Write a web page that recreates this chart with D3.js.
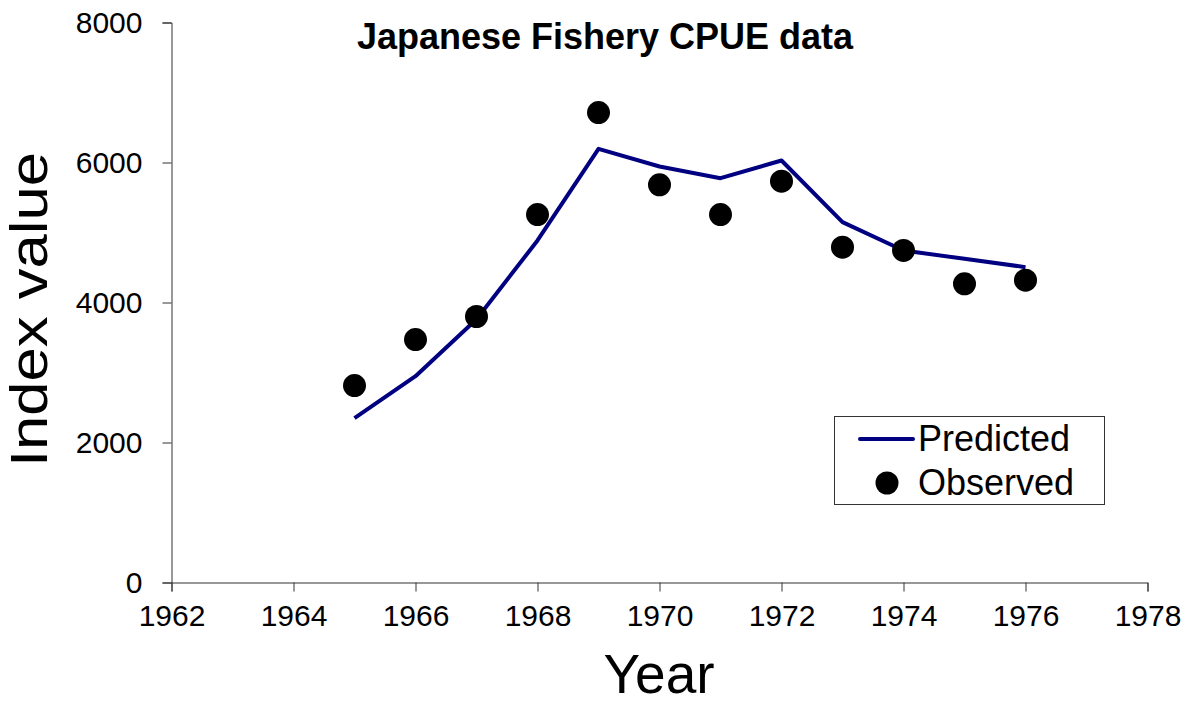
<!DOCTYPE html>
<html>
<head>
<meta charset="utf-8">
<script src="https://cdn.jsdelivr.net/npm/d3@7"></script>
<style>
  body { margin: 0; background: #fff; }
  text { font-family: "Liberation Sans", Arial, sans-serif; }
</style>
</head>
<body>
<div id="box"></div>
<script>
// data
var years = [1965, 1966, 1967, 1968, 1969, 1970, 1971, 1972, 1973, 1974, 1975, 1976];
var predicted = [2347, 2947, 3760, 4886, 6195, 5943, 5776, 6029, 5148, 4743, 4624, 4505];
var observed = [2814, 3471, 3800, 5257, 6714, 5681, 5257, 5733, 4790, 4743, 4267, 4319];
var xTicks = [1962, 1964, 1966, 1968, 1970, 1972, 1974, 1976, 1978];
var yTicks = [0, 2000, 4000, 6000, 8000];

var width = 1190;
var height = 705;
var plotLeft = 171.5, plotRight = 1147.5, plotTop = 22.5, plotBottom = 582.5;

var svg = d3.select("#box").append("svg")
  .attr("width", width)
  .attr("height", height);

var x = d3.scaleLinear().domain([1962, 1978]).range([plotLeft, plotRight]);
var y = d3.scaleLinear().domain([0, 8000]).range([plotBottom, plotTop]);

// y axis
var yAxis = svg.append("g")
  .attr("transform", "translate(" + plotLeft + ",0)")
  .call(d3.axisLeft(y).tickValues(yTicks).tickSize(9).tickPadding(20).tickFormat(d3.format("d")));
yAxis.select(".domain").attr("stroke", "#333");
yAxis.selectAll(".tick line").attr("stroke", "#333");
yAxis.selectAll(".tick text").attr("font-size", 30).attr("fill", "#000")
  .attr("font-family", "Liberation Sans, Arial, sans-serif");

// x axis
var xAxis = svg.append("g")
  .attr("transform", "translate(0," + plotBottom + ")")
  .call(d3.axisBottom(x).tickValues(xTicks).tickSize(9).tickPadding(13).tickFormat(d3.format("d")));
xAxis.select(".domain").attr("stroke", "#333");
xAxis.selectAll(".tick line").attr("stroke", "#333");
xAxis.selectAll(".tick text").attr("font-size", 30).attr("fill", "#000")
  .attr("font-family", "Liberation Sans, Arial, sans-serif");

// predicted line
var line = d3.line()
  .x(function(d, i) { return x(years[i]); })
  .y(function(d) { return y(d); });

svg.append("path")
  .datum(predicted)
  .attr("d", line)
  .attr("fill", "none")
  .attr("stroke", "#000080")
  .attr("stroke-width", 4)
  .attr("stroke-linejoin", "round");

// observed dots
svg.selectAll("circle.obs")
  .data(observed)
  .enter()
  .append("circle")
  .attr("class", "obs")
  .attr("cx", function(d, i) { return x(years[i]); })
  .attr("cy", function(d) { return y(d); })
  .attr("r", 11.5)
  .attr("fill", "#000");

// title
svg.append("text")
  .attr("x", 605)
  .attr("y", 49)
  .attr("text-anchor", "middle")
  .attr("font-size", 36)
  .attr("font-weight", "bold")
  .text("Japanese Fishery CPUE data");

// axis titles
svg.append("text")
  .attr("x", 659)
  .attr("y", 693)
  .attr("text-anchor", "middle")
  .attr("font-size", 55)
  .text("Year");

svg.append("text")
  .attr("transform", "translate(47,309.5) rotate(-90)")
  .attr("text-anchor", "middle")
  .attr("font-size", 51)
  .attr("textLength", 315)
  .attr("lengthAdjust", "spacingAndGlyphs")
  .text("Index value");

// legend
var legend = svg.append("g");
legend.append("rect")
  .attr("x", 834.5).attr("y", 416.5)
  .attr("width", 270).attr("height", 88)
  .attr("fill", "#fff").attr("stroke", "#333").attr("stroke-width", 1);
legend.append("line")
  .attr("x1", 860).attr("x2", 913)
  .attr("y1", 439).attr("y2", 439)
  .attr("stroke", "#000080").attr("stroke-width", 4).attr("stroke-linecap", "round");
legend.append("circle")
  .attr("cx", 887).attr("cy", 483).attr("r", 11.5).attr("fill", "#000");
legend.append("text")
  .attr("x", 918).attr("y", 451)
  .attr("font-size", 36)
  .text("Predicted");
legend.append("text")
  .attr("x", 918).attr("y", 495)
  .attr("font-size", 36)
  .text("Observed");
</script>
</body>
</html>
